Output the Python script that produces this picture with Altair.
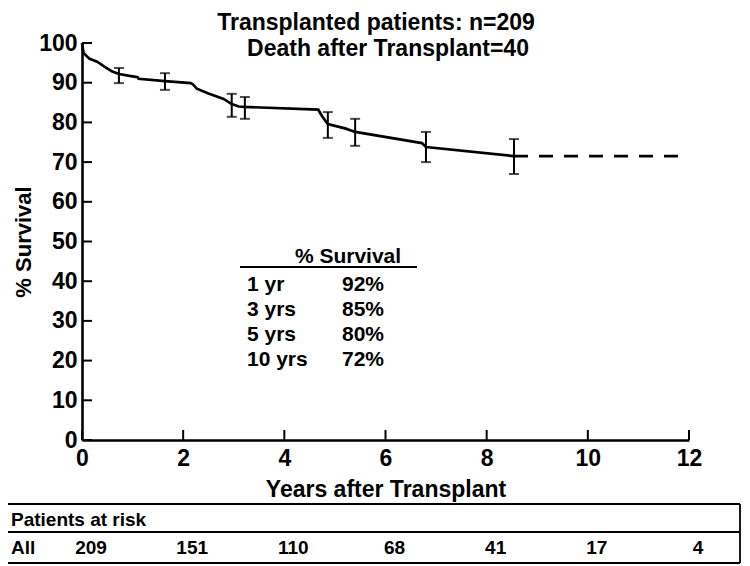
import altair as alt
import pandas as pd

# ---- data ----
curve_years = [0, 0.03, 0.15, 0.3, 0.45, 0.6, 0.73, 1.0, 1.1, 1.12, 1.64, 2.15, 2.2, 2.27, 2.5, 2.8, 2.96, 3.1, 3.22, 4.67, 4.75, 4.86, 5.2, 5.4, 6.72, 6.8, 8.54]
curve_surv = [100, 97.5, 96.0, 95.3, 94.0, 92.8, 92.2, 91.6, 91.4, 91.0, 90.4, 89.9, 89.5, 88.5, 87.3, 85.9, 84.6, 84.0, 83.9, 83.2, 81.5, 79.6, 78.5, 77.6, 74.8, 73.8, 71.5]
plateau_years = [8.54, 12]
plateau_surv = [71.5, 71.5]
bar_years = [0.73, 1.64, 2.96, 3.22, 4.86, 5.4, 6.8, 8.54]
bar_lo = [89.9, 88.2, 81.4, 80.9, 76.1, 74.1, 70.0, 67.0]
bar_hi = [93.7, 92.4, 87.2, 86.4, 82.6, 80.9, 77.6, 75.8]
table_labels = ["1 yr", "3 yrs", "5 yrs", "10 yrs"]
table_values = ["92%", "85%", "80%", "72%"]
risk_years = [0, 2, 4, 6, 8, 10, 12]
risk_counts = ["209", "151", "110", "68", "41", "17", "4"]
x_ticks = [0, 2, 4, 6, 8, 10, 12]
y_ticks = [0, 10, 20, 30, 40, 50, 60, 70, 80, 90, 100]
title_lines = ["Transplanted patients: n=209", "Death after Transplant=40"]

FONT = "Liberation Sans, Arial, Helvetica, sans-serif"
W, H = 607, 397

xs = alt.Scale(domain=[0, 12], nice=False, zero=False)
ys = alt.Scale(domain=[0, 100], nice=False, zero=False)

xaxis = alt.Axis(values=x_ticks, ticks=False, tickSize=0, grid=False, domainColor="black", domainWidth=2.6,
                 labelFont=FONT, labelFontSize=23, labelFontWeight="bold", labelColor="black", labelPadding=7,
                 title="Years after Transplant", titleFont=FONT, titleFontSize=23, titleFontWeight="bold",
                 titleColor="black", titlePadding=8, labelFlush=False)
yaxis = alt.Axis(values=y_ticks, ticks=False, tickSize=0, grid=False, domainColor="black", domainWidth=2.6,
                 labelFont=FONT, labelFontSize=23, labelFontWeight="bold", labelColor="black", labelPadding=5,
                 title="% Survival", titleFont=FONT, titleFontSize=22, titleFontWeight="bold",
                 titleColor="black", titlePadding=3, labelFlush=False)

X = alt.X("x:Q", scale=xs, axis=xaxis)
Y = alt.Y("y:Q", scale=ys, axis=yaxis)

curve_df = pd.DataFrame({"x": curve_years, "y": curve_surv})
plateau_df = pd.DataFrame({"x": plateau_years, "y": plateau_surv})
bars_df = pd.DataFrame({"x": bar_years, "y": bar_lo, "hi": bar_hi})
caps_df = pd.DataFrame({"x": bar_years + bar_years, "y": bar_lo + bar_hi})

curve = alt.Chart(curve_df).mark_line(color="black", strokeWidth=2.7).encode(x=X, y=Y)
plateau = alt.Chart(plateau_df).mark_line(color="black", strokeWidth=2.7, strokeDash=[14, 11]).encode(x=X, y=Y)
bars = alt.Chart(bars_df).mark_rule(color="black", strokeWidth=2).encode(x=X, y=Y, y2="hi:Q")
caps = alt.Chart(caps_df).mark_tick(color="black", orient="horizontal", size=10, thickness=2).encode(x=X, y=Y)

# inward ticks
yt = alt.Chart(pd.DataFrame({"y": y_ticks})).mark_rule(color="black", strokeWidth=2).encode(
    y=Y, x=alt.value(0), x2=alt.value(10))
xt = alt.Chart(pd.DataFrame({"x": x_ticks})).mark_rule(color="black", strokeWidth=2).encode(
    x=X, y=alt.value(H), y2=alt.value(H - 10))

# titles
titles_df = pd.DataFrame({"t": title_lines, "i": [0, 1]})
titles = alt.Chart(titles_df).transform_calculate(
    px="datum.i == 0 ? 294 : 306", py="datum.i == 0 ? -20 : 6"
).mark_text(font=FONT, fontSize=23, fontWeight="bold", color="black", align="center", baseline="middle").encode(
    x=alt.X("px:Q", scale=None), y=alt.Y("py:Q", scale=None), text="t:N")

# survival table
tbl_df = pd.DataFrame({"label": table_labels, "val": table_values, "i": list(range(len(table_labels)))})
tbl_base = alt.Chart(tbl_df).transform_calculate(py="242 + datum.i * 25")
tbl_lab = tbl_base.mark_text(font=FONT, fontSize=21, fontWeight="bold", color="black", align="left", baseline="middle").encode(
    x=alt.value(165), y=alt.Y("py:Q", scale=None), text="label:N")
tbl_val = tbl_base.mark_text(font=FONT, fontSize=21, fontWeight="bold", color="black", align="left", baseline="middle").encode(
    x=alt.value(260), y=alt.Y("py:Q", scale=None), text="val:N")
tbl_head = alt.Chart(pd.DataFrame({"t": ["% Survival"]})).mark_text(
    font=FONT, fontSize=21, fontWeight="bold", color="black", align="center", baseline="middle").encode(
    x=alt.value(266), y=alt.value(214), text="t:N")
tbl_line = alt.Chart(pd.DataFrame({"t": [0]})).mark_rule(color="black", strokeWidth=2).encode(
    x=alt.value(158), x2=alt.value(335), y=alt.value(224))

# patients at risk table
risk_df = pd.DataFrame({"x": risk_years, "n": risk_counts})
risk_txt = alt.Chart(risk_df).mark_text(font=FONT, fontSize=19, fontWeight="bold", color="black",
                                        align="center", baseline="middle", dx=9).encode(
    x=X, y=alt.value(505), text="n:N")
risk_head = alt.Chart(pd.DataFrame({"t": ["Patients at risk"]})).mark_text(
    font=FONT, fontSize=19, fontWeight="bold", color="black", align="left", baseline="middle").encode(
    x=alt.value(-71), y=alt.value(477), text="t:N")
risk_all = alt.Chart(pd.DataFrame({"t": ["All"]})).mark_text(
    font=FONT, fontSize=19, fontWeight="bold", color="black", align="left", baseline="middle").encode(
    x=alt.value(-71), y=alt.value(505), text="t:N")
box_h = alt.Chart(pd.DataFrame({"y": [461, 489, 520]})).mark_rule(color="black", strokeWidth=1.8).encode(
    x=alt.value(-80), x2=alt.value(658), y=alt.Y("y:Q", scale=None))
box_v = alt.Chart(pd.DataFrame({"x": [-80, 658]})).mark_rule(color="black", strokeWidth=1.8).encode(
    x=alt.X("x:Q", scale=None), y=alt.value(461), y2=alt.value(520))

chart = alt.layer(
    curve, plateau, bars, caps, yt, xt, titles, tbl_lab, tbl_val, tbl_head, tbl_line,
    risk_txt, risk_head, risk_all, box_h, box_v
).resolve_scale(x="shared", y="shared").properties(
    width=W, height=H,
    autosize=alt.AutoSizeParams(type="none"),
    padding={"left": 74, "top": 35, "right": 52, "bottom": 125},
).configure_view(stroke=None)

chart.save("out.html", embed_options={"renderer": "svg", "actions": False})
